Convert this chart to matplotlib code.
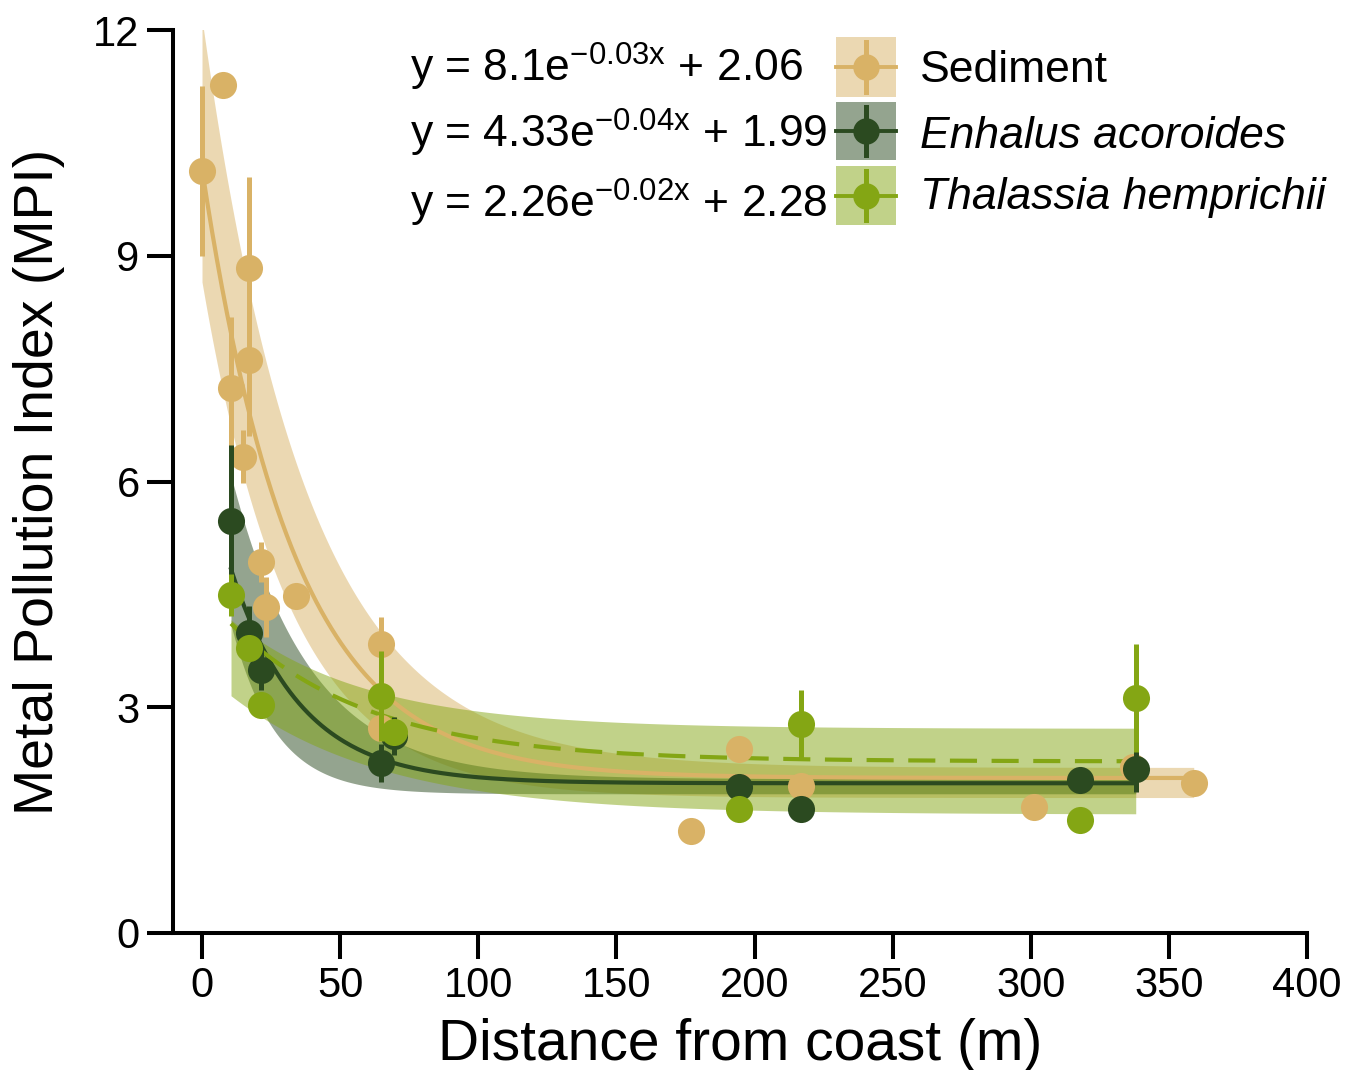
import numpy as np
import matplotlib
matplotlib.use("Agg")
import matplotlib.pyplot as plt
from matplotlib.patches import Rectangle
from matplotlib.lines import Line2D

plt.rcParams['font.family'] = ['Liberation Sans', 'DejaVu Sans']
plt.rcParams['mathtext.fontset'] = 'custom'
plt.rcParams['mathtext.rm'] = 'Liberation Sans'
plt.rcParams['mathtext.it'] = 'Liberation Sans:italic'
plt.rcParams['mathtext.default'] = 'regular'

# ---------------- data ----------------
series_names = ["Sediment", "Enhalus acoroides", "Thalassia hemprichii"]
series_italic = [False, True, True]

sed_x = [0, 7.6, 10.5, 15, 17, 17, 21.4, 23.2, 34, 64.8, 64.8, 177, 194.5, 217, 301, 337, 359]
sed_y = [10.13, 11.27, 7.24, 6.33, 8.84, 7.61, 4.93, 4.33, 4.48, 3.84, 2.72, 1.36, 2.45, 1.95, 1.67, 2.2, 2.0]
sed_err = [1.13, 0, 0.95, 0.35, 1.2, 1.0, 0.26, 0.4, 0, 0.36, 0, 0, 0, 0, 0, 0, 0]

enh_x = [10.5, 17, 21.4, 64.8, 69.5, 194.5, 217, 318, 338]
enh_y = [5.48, 3.99, 3.5, 2.26, 2.62, 1.94, 1.65, 2.03, 2.18]
enh_err = [1.0, 0.35, 0.27, 0.25, 0.25, 0, 0, 0, 0.3]

tha_x = [10.5, 17, 21.4, 64.8, 69.5, 194.5, 217, 318, 338]
tha_y = [4.49, 3.79, 3.03, 3.15, 2.67, 1.65, 2.78, 1.5, 3.12]
tha_err = [0.28, 0, 0, 0.6, 0, 0, 0.45, 0, 0.72]

# fitted model y = a*exp(-b x) + c  (from the equations)
sed_fit = (8.1, 0.03, 2.06)
enh_fit = (4.33, 0.04, 1.99)
tha_fit = (2.26, 0.02, 2.28)

# confidence band edges, same model form (upper, lower)
sed_hi, sed_lo = (9.95, 0.0264, 2.2), (6.85, 0.0313, 1.8)
enh_hi, enh_lo = (5.83, 0.0352, 2.05), (4.33, 0.0626, 1.85)
tha_hi, tha_lo = (1.79, 0.0206, 2.72), (1.9, 0.018, 1.58)

equations = [r"y = 8.1e$^{-0.03\mathrm{x}}$ + 2.06",
             r"y = 4.33e$^{-0.04\mathrm{x}}$ + 1.99",
             r"y = 2.26e$^{-0.02\mathrm{x}}$ + 2.28"]

colors = ["#d9b266", "#2b4a20", "#84a614"]
line_styles = ["-", "-", (0, (6.5, 3.5))]

xticks = [0, 50, 100, 150, 200, 250, 300, 350, 400]
yticks = [0, 3, 6, 9, 12]

# ---------------- figure ----------------
W, H = 1357, 1070
fig = plt.figure(figsize=(W / 100, H / 100), dpi=100)
ax = fig.add_axes([173 / W, 1 - 933 / H, (1307 - 173) / W, (933 - 30) / H])

def model(p, x):
    a, b, c = p
    return a * np.exp(-b * np.asarray(x)) + c

groups = [
    (sed_x, sed_y, sed_err, sed_fit, sed_hi, sed_lo),
    (enh_x, enh_y, enh_err, enh_fit, enh_hi, enh_lo),
    (tha_x, tha_y, tha_err, tha_fit, tha_hi, tha_lo),
]

# bands
for (x, y, e, fit, hi, lo), col in zip(groups, colors):
    xs = np.linspace(min(x), max(x), 400)
    ax.fill_between(xs, model(lo, xs), model(hi, xs), color=col, alpha=0.5,
                    linewidth=0, zorder=1)
# fit lines
for (x, y, e, fit, hi, lo), col, ls in zip(groups, colors, line_styles):
    xs = np.linspace(min(x), max(x), 400)
    ax.plot(xs, model(fit, xs), color=col, lw=3.0, ls=ls, zorder=2)
# points
for i, ((x, y, e, fit, hi, lo), col) in enumerate(zip(groups, colors)):
    ax.errorbar(x, y, yerr=e, fmt='o', color=col, ecolor=col, elinewidth=3.6,
                capsize=0, markersize=19.5, markeredgewidth=0, zorder=3 + i)

ax.set_xlim(-10.5, 400)
ax.set_ylim(0, 12)
ax.set_xticks(xticks)
ax.set_yticks(yticks)
for s in ["top", "right"]:
    ax.spines[s].set_visible(False)
for s in ["left", "bottom"]:
    ax.spines[s].set_linewidth(2.9)
ax.tick_params(axis='both', direction='out', length=19, width=2.9,
               labelsize=30, pad=5)

ax.set_xlabel("Distance from coast (m)", fontsize=41)
ax.set_ylabel("Metal Pollution Index (MPI)", fontsize=40)
ax.xaxis.set_label_coords(0.5, -0.094)
ax.xaxis.label.set_va('top')
ax.yaxis.set_label_coords(-0.0955, 0.5)

# ---------------- legend (manual) ----------------
def fx(px):
    return px / W

def fy(py):
    return 1 - py / H

rows = [(37, 97), (102, 160), (166, 225)]
label_y = [71, 137, 197]
eq_y = [82, 148, 218]
for i, ((t, b), col) in enumerate(zip(rows, colors)):
    fig.add_artist(Rectangle((fx(836), fy(b)), fx(896) - fx(836), fy(t) - fy(b),
                             transform=fig.transFigure, facecolor=col, alpha=0.5,
                             edgecolor='none'))
    cy = (t + b) / 2
    fig.add_artist(Line2D([fx(836), fx(896)], [fy(cy), fy(cy)], color=col, lw=2.8,
                          transform=fig.transFigure))
    fig.add_artist(Line2D([fx(866), fx(866)], [fy(t + 5), fy(b - 5)], color=col, lw=3.6,
                          transform=fig.transFigure))
    fig.add_artist(Line2D([fx(866)], [fy(cy)], color=col, marker='o', markersize=19,
                          markeredgewidth=0, transform=fig.transFigure))
    fig.text(fx(920), fy(label_y[i]), series_names[i], fontsize=32,
             style='italic' if series_italic[i] else 'normal', va='center', ha='left')
    fig.text(fx(410), fy(eq_y[i]), equations[i], fontsize=32, va='baseline', ha='left')

fig.savefig("out.png", dpi=100)
